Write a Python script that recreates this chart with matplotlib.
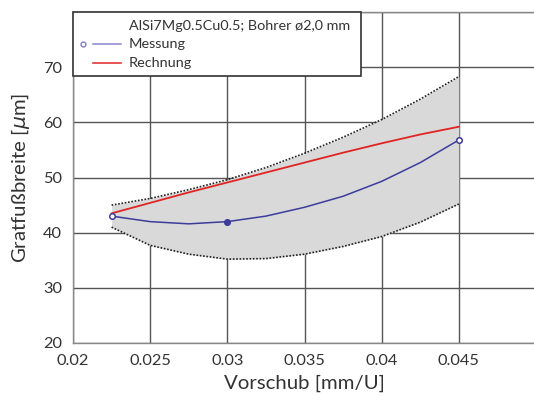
import matplotlib
matplotlib.use("Agg")
import matplotlib.pyplot as plt
from matplotlib.patches import Rectangle

plt.rcParams['font.family'] = ['Lato', 'DejaVu Sans']
plt.rcParams['mathtext.fontset'] = 'dejavusans'

# Werte
vorschub = [0.0225, 0.025, 0.0275, 0.03, 0.0325, 0.035, 0.0375, 0.04, 0.0425, 0.045]
messung_kurve = [43.0, 42.0, 41.6, 42.0, 43.0, 44.6, 46.6, 49.3, 52.7, 56.8]
rechnung = [43.5, 45.4, 47.3, 49.1, 50.9, 52.7, 54.5, 56.2, 57.8, 59.2]
band_oben = [45.0, 46.2, 47.8, 49.6, 51.8, 54.4, 57.3, 60.5, 64.2, 68.3]
band_unten = [41.0, 37.7, 36.1, 35.2, 35.3, 36.1, 37.5, 39.3, 41.9, 45.2]

mess_x = [0.0225, 0.03, 0.045]
mess_y = [43.0, 42.0, 56.8]
mess_fuellung = ['white', '#3c3c9c', 'white']

x_ticks = [0.02, 0.025, 0.03, 0.035, 0.04, 0.045, 0.05]
x_labels = ['0.02', '0.025', '0.03', '0.035', '0.04', '0.045', '']
y_ticks = [20, 30, 40, 50, 60, 70, 80]
y_labels = ['20', '30', '40', '50', '60', '70', '']

blau = '#3c3c9c'
rot = '#e02424'
text_farbe = '#333333'

fig = plt.figure(figsize=(5.34, 3.96), dpi=100)
ax = fig.add_axes([73 / 534, 1 - 343 / 396, 463 / 534, 331 / 396])

# Streuband
ax.fill_between(vorschub, band_unten, band_oben, color='#d9d9d9', lw=0, zorder=1)
ax.plot(vorschub, band_oben, color='#222222', lw=1.2, ls=(0, (1, 1)), zorder=2)
ax.plot(vorschub, band_unten, color='#222222', lw=1.2, ls=(0, (1, 1)), zorder=2)

ax.plot(vorschub, rechnung, color=rot, lw=1.3, zorder=3)
ax.plot(vorschub, messung_kurve, color=blau, lw=1.1, zorder=4)
for xi, yi, fc in zip(mess_x, mess_y, mess_fuellung):
    ax.plot(xi, yi, 'o', ms=4, mfc=fc, mec=blau, mew=1.1, zorder=5)

ax.set_xlim(0.02, 0.05)
ax.set_ylim(20, 80)
ax.set_xticks(x_ticks)
ax.set_xticklabels(x_labels)
ax.set_yticks(y_ticks)
ax.set_yticklabels(y_labels)
ax.tick_params(length=0, labelsize=11.8, colors=text_farbe, pad=8)
ax.grid(True, color='#555555', lw=1.0)
ax.set_axisbelow(True)
ax.spines['right'].set_visible(False)
for s in ['left', 'bottom', 'top']:
    ax.spines[s].set_color('#888888')
    ax.spines[s].set_linewidth(1.0)

ax.set_xlabel('Vorschub [mm/U]', fontsize=14.7, color=text_farbe, labelpad=5)
ax.set_ylabel(r'Gratfußbreite [$\mu$m]', fontsize=14.7, color=text_farbe, labelpad=8)

# Legende von Hand gezeichnet
ax.add_patch(Rectangle((0, 0.8066), 0.622, 0.1934, transform=ax.transAxes,
                       facecolor='white', edgecolor='#333333', lw=1.2, zorder=10, clip_on=False))
ax.text(0.121, 0.958, 'AlSi7Mg0.5Cu0.5; Bohrer ø2,0 mm', transform=ax.transAxes,
        fontsize=10.4, color=text_farbe, va='center', zorder=11)
ax.text(0.121, 0.902, 'Messung', transform=ax.transAxes,
        fontsize=10.4, color=text_farbe, va='center', zorder=11)
ax.text(0.121, 0.847, 'Rechnung', transform=ax.transAxes,
        fontsize=10.4, color=text_farbe, va='center', zorder=11)
ax.plot([0.0216], [0.902], 'o', ms=3.5, mfc='white', mec='#8080c0', mew=1.0,
        transform=ax.transAxes, zorder=11, clip_on=False)
ax.plot([0.0432, 0.1037], [0.902, 0.902], color='#8888cc', lw=1.1,
        transform=ax.transAxes, zorder=11)
ax.plot([0.0432, 0.1037], [0.847, 0.847], color=rot, lw=1.1,
        transform=ax.transAxes, zorder=11)

fig.savefig('out.png', dpi=100)
